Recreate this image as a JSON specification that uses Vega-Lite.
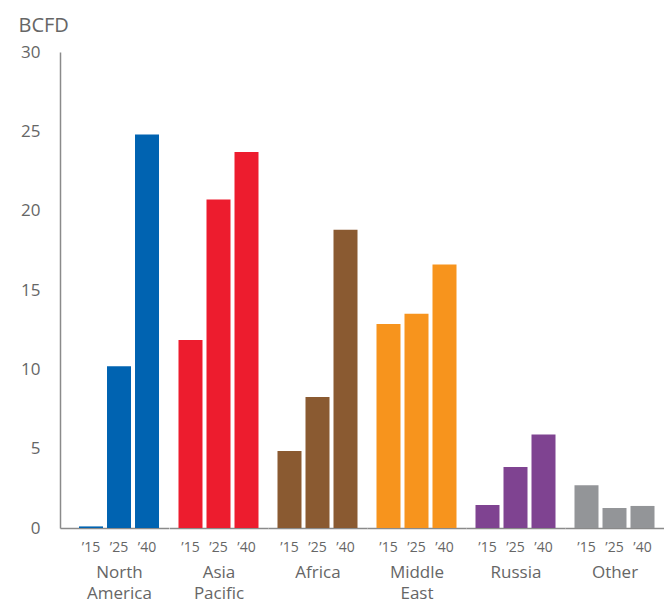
{
  "$schema": "https://vega.github.io/schema/vega-lite/v6.json",
  "padding": {"left": 18, "top": 15, "right": 0, "bottom": 4},
  "background": "white",
  "spacing": 0,
  "config": {
    "font": "Open Sans",
    "view": {"stroke": null},
    "concat": {"spacing": 0},
    "axis": {"labelFont": "Open Sans", "titleFont": "Open Sans", "labelColor": "#666666", "titleColor": "#666666", "domainColor": "#8a8a8a", "domainWidth": 1.5, "ticks": false, "grid": false},
    "axisX": {"labelAngle": 0, "labelFontSize": 14, "labelPadding": 12, "titleFontSize": 17, "titleFontWeight": "normal", "titleLineHeight": 21, "titlePadding": 10, "titleAlign": "center"}
  },
  "data": {
    "values": [
      {"region": "North America", "year": "’15", "bcfd": 0.1},
      {"region": "North America", "year": "’25", "bcfd": 10.2},
      {"region": "North America", "year": "’40", "bcfd": 24.8},
      {"region": "Asia Pacific", "year": "’15", "bcfd": 11.85},
      {"region": "Asia Pacific", "year": "’25", "bcfd": 20.7},
      {"region": "Asia Pacific", "year": "’40", "bcfd": 23.7},
      {"region": "Africa", "year": "’15", "bcfd": 4.85},
      {"region": "Africa", "year": "’25", "bcfd": 8.25},
      {"region": "Africa", "year": "’40", "bcfd": 18.8},
      {"region": "Middle East", "year": "’15", "bcfd": 12.85},
      {"region": "Middle East", "year": "’25", "bcfd": 13.5},
      {"region": "Middle East", "year": "’40", "bcfd": 16.6},
      {"region": "Russia", "year": "’15", "bcfd": 1.45},
      {"region": "Russia", "year": "’25", "bcfd": 3.85},
      {"region": "Russia", "year": "’40", "bcfd": 5.9},
      {"region": "Other", "year": "’15", "bcfd": 2.7},
      {"region": "Other", "year": "’25", "bcfd": 1.26},
      {"region": "Other", "year": "’40", "bcfd": 1.39}
    ]
  },
  "hconcat": [
    {
      "width": 108.5, "height": 476,
      "transform": [{"filter": "datum.region === 'North America'"}],
      "mark": {"type": "bar", "color": "#0063b1"},
      "encoding": {
        "x": {"field": "year", "type": "ordinal", "scale": {"paddingInner": 0.1429, "paddingOuter": 0.509, "align": 0.667}, "axis": {"title": ["North", "America"], "titleX": 59}},
        "y": {
          "field": "bcfd", "type": "quantitative",
          "scale": {"domain": [0, 30], "nice": false},
          "axis": {
            "values": [0, 5, 10, 15, 20, 25, 30],
            "labelFontSize": 17,
            "labelPadding": 20,
            "title": "BCFD",
            "titleAngle": 0,
            "titleFontSize": 20,
            "titleFontWeight": "normal",
            "titleAlign": "left",
            "titleBaseline": "alphabetic",
            "titleX": -42,
            "titleY": -21
          }
        }
      }
    },
    {
      "width": 99, "height": 476,
      "transform": [{"filter": "datum.region === 'Asia Pacific'"}],
      "mark": {"type": "bar", "color": "#ed1c2e"},
      "encoding": {
        "x": {"field": "year", "type": "ordinal", "scale": {"paddingInner": 0.1429, "paddingOuter": 0.339}, "axis": {"title": ["Asia", "Pacific"]}},
        "y": {"field": "bcfd", "type": "quantitative", "scale": {"domain": [0, 30], "nice": false}, "axis": null}
      }
    },
    {
      "width": 99, "height": 476,
      "transform": [{"filter": "datum.region === 'Africa'"}],
      "mark": {"type": "bar", "color": "#8a5a31"},
      "encoding": {
        "x": {"field": "year", "type": "ordinal", "scale": {"paddingInner": 0.1429, "paddingOuter": 0.339}, "axis": {"title": ["Africa"]}},
        "y": {"field": "bcfd", "type": "quantitative", "scale": {"domain": [0, 30], "nice": false}, "axis": null}
      }
    },
    {
      "width": 99, "height": 476,
      "transform": [{"filter": "datum.region === 'Middle East'"}],
      "mark": {"type": "bar", "color": "#f7941d"},
      "encoding": {
        "x": {"field": "year", "type": "ordinal", "scale": {"paddingInner": 0.1429, "paddingOuter": 0.339}, "axis": {"title": ["Middle", "East"]}},
        "y": {"field": "bcfd", "type": "quantitative", "scale": {"domain": [0, 30], "nice": false}, "axis": null}
      }
    },
    {
      "width": 99, "height": 476,
      "transform": [{"filter": "datum.region === 'Russia'"}],
      "mark": {"type": "bar", "color": "#7f4391"},
      "encoding": {
        "x": {"field": "year", "type": "ordinal", "scale": {"paddingInner": 0.1429, "paddingOuter": 0.339}, "axis": {"title": ["Russia"]}},
        "y": {"field": "bcfd", "type": "quantitative", "scale": {"domain": [0, 30], "nice": false}, "axis": null}
      }
    },
    {
      "width": 99, "height": 476,
      "transform": [{"filter": "datum.region === 'Other'"}],
      "mark": {"type": "bar", "color": "#939598"},
      "encoding": {
        "x": {"field": "year", "type": "ordinal", "scale": {"paddingInner": 0.1429, "paddingOuter": 0.339}, "axis": {"title": ["Other"]}},
        "y": {"field": "bcfd", "type": "quantitative", "scale": {"domain": [0, 30], "nice": false}, "axis": null}
      }
    }
  ]
}
